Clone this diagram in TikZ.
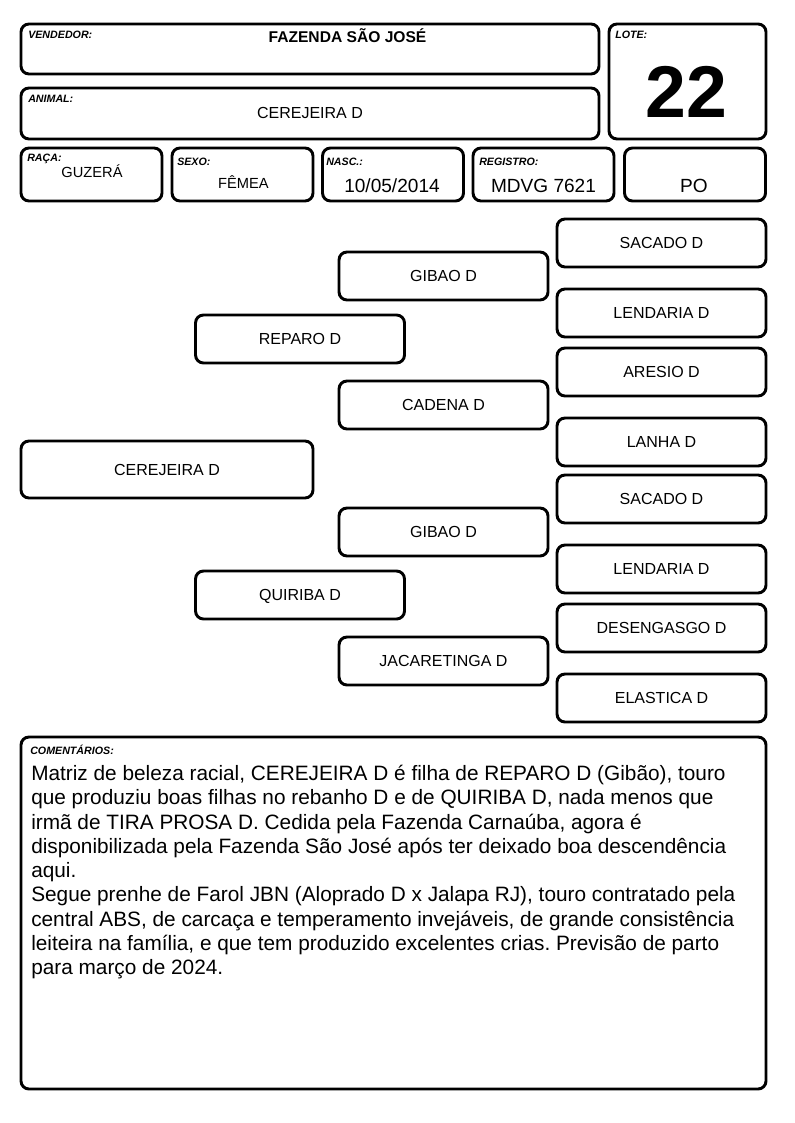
\documentclass[tikz,border=0pt]{standalone}
\usepackage{fontspec}
\setmainfont{Liberation Sans}
\frenchspacing
\usetikzlibrary{positioning}
\tikzset{
  cell/.style={draw, line width=2.2pt, rounded corners=6pt, inner sep=0pt},
  lbl/.style={anchor=base west, inner sep=0pt, font=\fontsize{8}{9}\selectfont\bfseries\itshape},
  val/.style={anchor=base, inner sep=0pt},
  ped/.style={cell, minimum width=156.75pt, minimum height=36pt, font=\fontsize{12}{14}\selectfont, text height=8.6pt, text depth=0pt}}

\begin{document}
\begin{tikzpicture}[x=0.75pt, y=-0.75pt]
\useasboundingbox (0,0) rectangle (794,1123);
% header boxes
\node[cell, minimum width=433.5pt, minimum height=37.5pt] (vend) at (310,49) {};
\node[cell, minimum width=433.5pt, minimum height=38.25pt] (anim) at (310,113.5) {};
\node[cell, minimum width=117.75pt, minimum height=86.25pt] (lote) at (687.5,81.5) {};
\node[cell, minimum width=105.75pt, minimum height=39.75pt] (raca) at (91.5,174.5) {};
\node[cell, minimum width=105.75pt, minimum height=39.75pt] (sexo) at (242.5,174.5) {};
\node[cell, minimum width=105.75pt, minimum height=39.75pt] (nasc) at (393,174.5) {};
\node[cell, minimum width=105.75pt, minimum height=39.75pt] (regi) at (543.5,174.5) {};
\node[cell, minimum width=105.75pt, minimum height=39.75pt] (cat) at (695,174.5) {};
% header labels
\node[lbl] (vendl) at (28,39) {VENDEDOR:};
\node[lbl] (animl) at (28,103) {ANIMAL:};
\node[lbl] (lotel) at (615,39) {LOTE:};
\node[lbl] (racal) at (27,162) {RAÇA:};
\node[lbl] (sexol) at (177,165.5) {SEXO:};
\node[lbl] (nascl) at (326,165.5) {NASC.:};
\node[lbl] (regil) at (479,165.5) {REGISTRO:};
% header values
\node[val, font=\fontsize{11.7}{14}\selectfont\bfseries] (vendv) at (347.5,43) {FAZENDA SÃO JOSÉ};
\node[val, font=\fontsize{12}{14}\selectfont] (animv) at (310,119) {CEREJEIRA D};
\node[val, font=\fontsize{55}{60}\selectfont\bfseries] (lotev) at (686.7,118) {22};
\node[val, font=\fontsize{11}{13}\selectfont] (racav) at (92,178) {GUZERÁ};
\node[val, font=\fontsize{11}{13}\selectfont] (sexov) at (243.5,189) {FÊMEA};
\node[val, font=\fontsize{14.3}{16}\selectfont] (nascv) at (392,193) {10/05/2014};
\node[val, font=\fontsize{14.3}{16}\selectfont] (regiv) at (543.5,192.5) {MDVG 7621};
\node[val, font=\fontsize{14.3}{16}\selectfont] (catv) at (694,192.5) {PO};
% pedigree
\node[ped, minimum width=219pt, minimum height=42.75pt] (p0) at (167,469.5) {CEREJEIRA D};
\node[ped] (p1) at (300,339) {REPARO D};
\node[ped] (p2) at (300,595) {QUIRIBA D};
\node[ped] (p11) at (443.5,276) {GIBAO D};
\node[ped] (p12) at (443.5,405) {CADENA D};
\node[ped] (p21) at (443.5,532) {GIBAO D};
\node[ped] (p22) at (443.5,661) {JACARETINGA D};
\node[ped] (p111) at (661.5,243) {SACADO D};
\node[ped] (p112) at (661.5,313) {LENDARIA D};
\node[ped] (p121) at (661.5,372) {ARESIO D};
\node[ped] (p122) at (661.5,442) {LANHA D};
\node[ped] (p211) at (661.5,499) {SACADO D};
\node[ped] (p212) at (661.5,569) {LENDARIA D};
\node[ped] (p221) at (661.5,628) {DESENGASGO D};
\node[ped] (p222) at (661.5,698) {ELASTICA D};
% comments
\node[cell, minimum width=558.75pt, minimum height=264pt] (com) at (393.5,913) {};
\node[lbl] (coml) at (30,754) {COMENTÁRIOS:};
\node[anchor=north west, inner sep=0pt, align=left, font=\fontsize{15.6}{18.2}\selectfont] (comv) at (31,765) {Matriz de beleza racial, CEREJEIRA D é filha de REPARO D (Gibão), touro\\
que produziu boas filhas no rebanho D e de QUIRIBA D, nada menos que\\
irmã de TIRA PROSA D. Cedida pela Fazenda Carnaúba, agora é\\
disponibilizada pela Fazenda São José após ter deixado boa descendência\\
aqui.\\
Segue prenhe de Farol JBN (Aloprado D x Jalapa RJ), touro contratado pela\\
central ABS, de carcaça e temperamento invejáveis, de grande consistência\\
leiteira na família, e que tem produzido excelentes crias. Previsão de parto\\
para março de 2024.};
\end{tikzpicture}
\end{document}
